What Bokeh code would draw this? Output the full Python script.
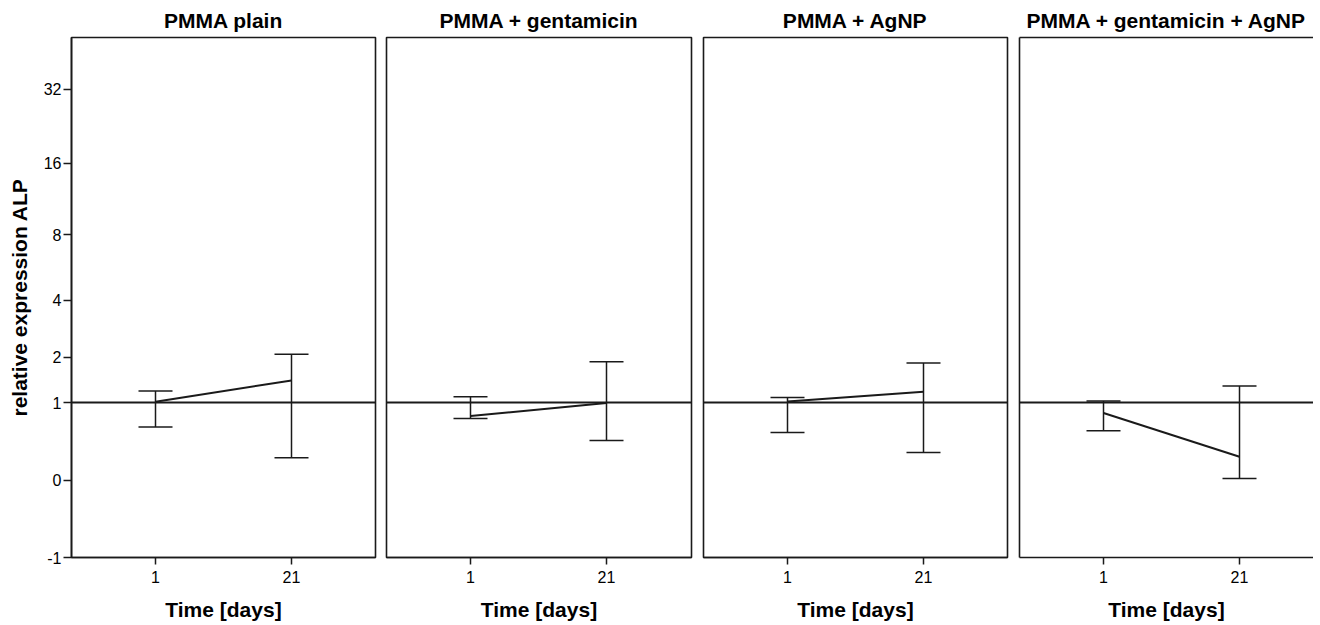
import numpy as np
from bokeh.plotting import figure
from bokeh.layouts import row
from bokeh.models import (Range1d, FixedTicker, Span, Whisker, TeeHead,
                          ColumnDataSource, CustomJSTickFormatter, LinearAxis)
from bokeh.embed import file_html
from bokeh.resources import INLINE

# ---------------- data (relative expression ALP) ----------------
panel_titles = ["PMMA plain", "PMMA + gentamicin", "PMMA + AgNP",
                "PMMA + gentamicin + AgNP"]
days = ["1", "21"]

mean_plain = [1.016, 1.440]
upper_plain = [1.219, 2.080]
lower_plain = [0.607, 0.221]

mean_genta = [0.774, 0.993]
upper_genta = [1.108, 1.885]
lower_genta = [0.736, 0.426]

mean_agnp = [1.022, 1.205]
upper_agnp = [1.095, 1.852]
lower_agnp = [0.532, 0.280]

mean_genta_agnp = [0.822, 0.232]
upper_genta_agnp = [1.029, 1.320]
lower_genta_agnp = [0.555, 0.014]

y_tick_values = [-1, 0, 1, 2, 4, 8, 16, 32]
y_min, y_max = -1, 51.5
reference_level = 1

series = [
    (mean_plain, upper_plain, lower_plain),
    (mean_genta, upper_genta, lower_genta),
    (mean_agnp, upper_agnp, lower_agnp),
    (mean_genta_agnp, upper_genta_agnp, lower_genta_agnp),
]


def tr(v):
    """symmetric log2 axis transform: sign(v) * log2(|v| + 1)"""
    v = np.asarray(v, dtype=float)
    return np.sign(v) * np.log2(np.abs(v) + 1.0)


FONT = "Liberation Sans"
INK = "#1a1a1a"
frame_widths = [304, 305, 304, 294]
left_borders = [71, 6, 7, 7]
right_borders = [5, 5, 5, 0]
px_per_day = 136.0
x_pad = 84.0 / px_per_day


def bare_axis():
    ax = LinearAxis(ticker=FixedTicker(ticks=[]))
    ax.axis_line_color = INK
    ax.axis_line_width = 1.6
    ax.major_tick_line_color = None
    ax.minor_tick_line_color = None
    ax.major_tick_out = 0
    ax.major_tick_in = 0
    ax.minor_tick_out = 0
    ax.minor_tick_in = 0
    ax.major_label_text_font_size = "0px"
    ax.major_label_standoff = 0
    return ax


figs = []
for i, title in enumerate(panel_titles):
    mean, upper, lower = series[i]
    x = list(range(len(days)))
    x_start = -x_pad
    x_end = x_start + frame_widths[i] / px_per_day
    p = figure(
        frame_width=frame_widths[i], frame_height=520,
        x_range=Range1d(x_start, x_end),
        y_range=Range1d(float(tr(y_min)), float(tr(y_max))),
        min_border_left=left_borders[i], min_border_right=right_borders[i],
        min_border_top=37, min_border_bottom=60,
        y_axis_location="left" if i == 0 else None,
        toolbar_location=None, output_backend="svg",
        background_fill_color="white", border_fill_color="white",
    )
    p.xgrid.visible = False
    p.ygrid.visible = False

    p.title.text = title
    p.title.align = "center"
    p.title.text_font = FONT
    p.title.text_font_size = "21px"
    p.title.text_font_style = "bold"
    p.title.text_color = "black"
    p.title.standoff = 11

    xa = p.below[0]
    xa.ticker = FixedTicker(ticks=x)
    xa.major_label_overrides = {k: d for k, d in zip(x, days)}
    xa.minor_tick_line_color = None
    xa.major_tick_in = 0
    xa.major_tick_out = 7
    xa.major_tick_line_width = 1.5
    xa.major_tick_line_color = INK
    xa.axis_line_color = INK
    xa.axis_line_width = 1.6
    xa.major_label_standoff = 6
    xa.major_label_text_font = FONT
    xa.major_label_text_font_size = "16px"
    xa.major_label_text_color = "black"
    xa.axis_label = "Time [days]"
    xa.axis_label_text_font = FONT
    xa.axis_label_text_font_size = "21px"
    xa.axis_label_text_font_style = "bold"
    xa.axis_label_text_color = "black"
    xa.axis_label_standoff = 12

    if i == 0:
        ya = p.left[0]
        ya.ticker = FixedTicker(ticks=[float(t) for t in tr(y_tick_values)])
        ya.formatter = CustomJSTickFormatter(code="""
            const v = Math.sign(tick) * (Math.pow(2, Math.abs(tick)) - 1);
            return String(Math.round(v));
        """)
        ya.minor_tick_line_color = None
        ya.major_tick_in = 0
        ya.major_tick_out = 8
        ya.major_tick_line_width = 1.5
        ya.major_tick_line_color = INK
        ya.axis_line_color = INK
        ya.axis_line_width = 1.6
        ya.major_label_standoff = 2
        ya.major_label_text_font = FONT
        ya.major_label_text_font_size = "16px"
        ya.major_label_text_color = "black"
        ya.axis_label = "relative expression ALP"
        ya.axis_label_text_font = FONT
        ya.axis_label_text_font_size = "21px"
        ya.axis_label_text_font_style = "bold"
        ya.axis_label_text_color = "black"
        ya.axis_label_standoff = 10

    if i < 3:
        p.outline_line_color = INK
        p.outline_line_width = 1.6
    else:
        # right side of the last panel is cut off in the original
        p.outline_line_color = None
        p.add_layout(bare_axis(), "left")
        p.add_layout(bare_axis(), "above")

    p.add_layout(Span(location=float(tr(reference_level)), dimension="width",
                      line_color=INK, line_width=2))

    src = ColumnDataSource(dict(x=x, mean=tr(mean), upper=tr(upper),
                                lower=tr(lower)))
    p.line("x", "mean", source=src, line_color=INK, line_width=2)
    p.add_layout(Whisker(
        source=src, base="x", upper="upper", lower="lower",
        line_color=INK, line_width=1.5,
        upper_head=TeeHead(size=34, line_color=INK, line_width=1.5),
        lower_head=TeeHead(size=34, line_color=INK, line_width=1.5),
    ))
    figs.append(p)

layout = row(*figs, spacing=0)
open("out.html", "w").write(file_html(layout, INLINE))
